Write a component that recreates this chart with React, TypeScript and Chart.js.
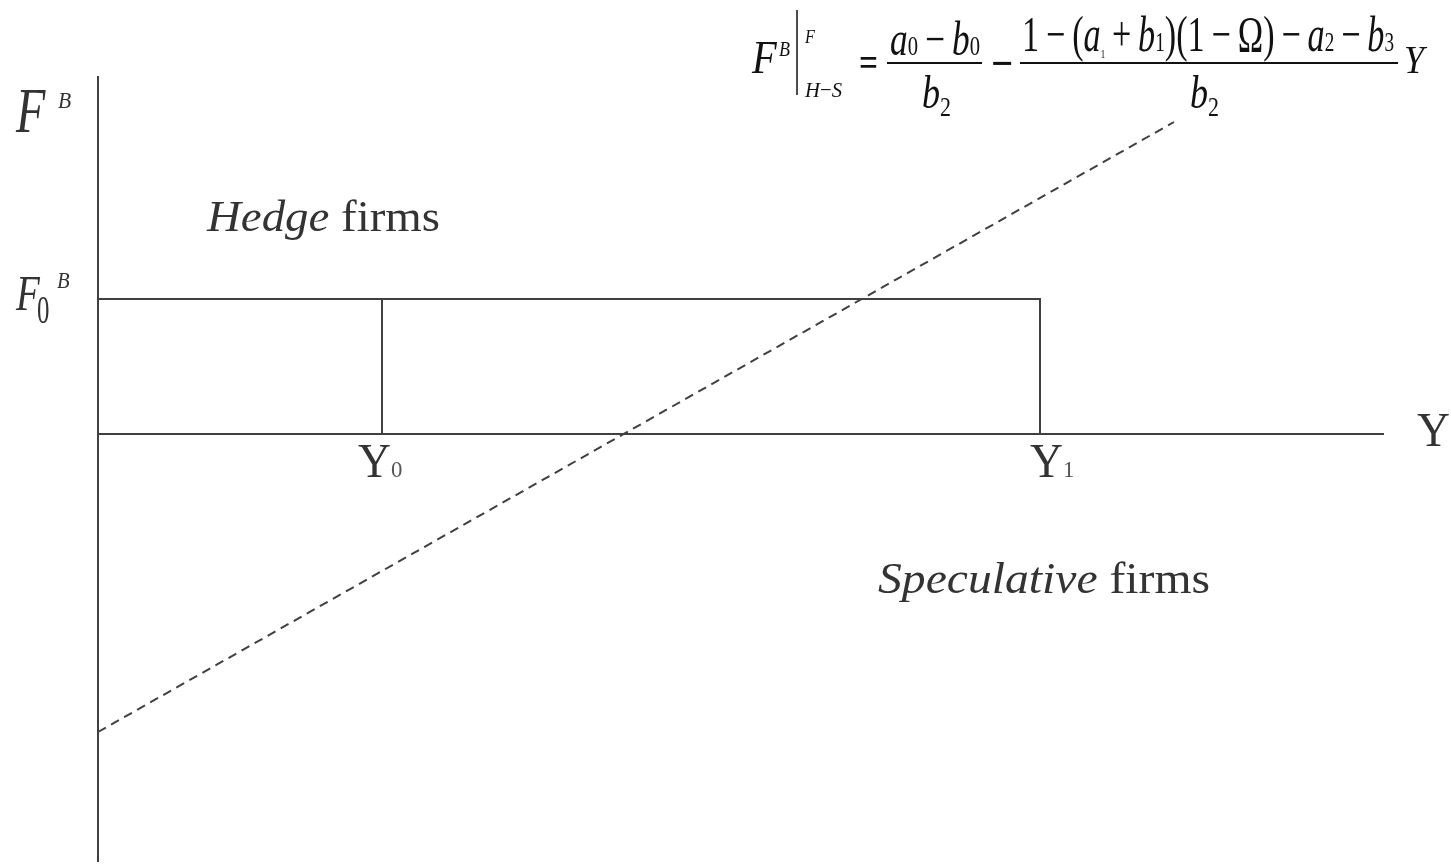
import { useEffect, useRef } from "react";
import { Chart, registerables } from "chart.js";

Chart.register(...registerables);

// Threshold values on the two axes
const F0 = 1.35; // F_0^B
const Y0 = 2.84;
const Y1 = 9.42;

// Axis extents
const F_AXIS = [3.58, -4.28];
const Y_AXIS_END = 12.86;

// Hedge / speculative boundary: F^B as a function of Y
const boundaryY = [0, 10.76];
const boundaryF = [-2.98, 3.12];

const SERIF = `"Liberation Serif", "Times New Roman", serif`;
const LINE = "#404040";
const TEXT = "#333333";
const INK = "#111111";
const TS = "\u2009"; // thin space around operators

type Run = { t: string; it?: boolean; b?: boolean; s?: number; dy?: number; c?: string };

function fontOf(r: Run, base: number) {
  return `${r.it ? "italic " : ""}${r.b ? "bold " : ""}${r.s ?? base}px ${SERIF}`;
}

function runsWidth(ctx: CanvasRenderingContext2D, runs: Run[], base: number) {
  let w = 0;
  for (const r of runs) {
    ctx.font = fontOf(r, base);
    w += ctx.measureText(r.t).width;
  }
  return w;
}

// Draws a sequence of text runs starting at (left, baseline); when a width is
// given, the whole group is stretched horizontally to span it.
function drawRuns(
  ctx: CanvasRenderingContext2D,
  runs: Run[],
  left: number,
  baseline: number,
  base: number,
  width: number | null,
  color: string,
  sx = 1
) {
  const natural = runsWidth(ctx, runs, base);
  const k = width ? width / natural : sx;
  ctx.save();
  ctx.translate(left, baseline);
  ctx.scale(k, 1);
  ctx.textBaseline = "alphabetic";
  ctx.textAlign = "left";
  let x = 0;
  for (const r of runs) {
    ctx.font = fontOf(r, base);
    ctx.fillStyle = r.c ?? color;
    ctx.fillText(r.t, x, r.dy ?? 0);
    x += ctx.measureText(r.t).width;
  }
  ctx.restore();
}

function segment(ctx: CanvasRenderingContext2D, x1: number, y1: number, x2: number, y2: number, w = 2) {
  ctx.save();
  ctx.strokeStyle = INK;
  ctx.lineWidth = w;
  ctx.beginPath();
  ctx.moveTo(x1, y1);
  ctx.lineTo(x2, y2);
  ctx.stroke();
  ctx.restore();
}

const labelsPlugin = {
  id: "diagramLabels",
  afterDraw(chart: Chart) {
    const ctx = chart.ctx;
    const xs = chart.scales.x;
    const ys = chart.scales.y;
    const px = (v: number) => xs.getPixelForValue(v);
    const py = (v: number) => ys.getPixelForValue(v);

    // Vertical axis label F^B
    drawRuns(ctx, [{ t: "F", it: true }], 16, 132, 64, null, TEXT, 0.75);
    drawRuns(ctx, [{ t: "B", it: true }], 58, 108, 24, null, TEXT, 0.9);

    // F_0^B at the threshold level
    const f0 = py(F0);
    drawRuns(ctx, [{ t: "F", it: true }], 16, f0 + 11, 50, null, TEXT, 0.78);
    drawRuns(ctx, [{ t: "0" }], 37, f0 + 24, 40, null, TEXT, 0.62);
    drawRuns(ctx, [{ t: "B", it: true }], 57, f0 - 11, 23, null, TEXT, 0.9);

    // Horizontal axis labels
    const y0 = py(0);
    drawRuns(ctx, [{ t: "Y" }, { t: "0", s: 24, c: "#555555" }], px(Y0) - 24, y0 + 43, 48, null, TEXT, 0.95);
    drawRuns(ctx, [{ t: "Y" }, { t: "1", s: 24, c: "#555555" }], px(Y1) - 10, y0 + 43, 48, null, TEXT, 0.95);
    drawRuns(ctx, [{ t: "Y" }], px(Y_AXIS_END) + 33, y0 + 12, 48, null, TEXT, 0.95);

    // Region labels
    drawRuns(ctx, [{ t: "Hedge", it: true }, { t: " firms" }], 207, 231, 44, 233, TEXT);
    drawRuns(ctx, [{ t: "Speculative", it: true }, { t: " firms" }], 878, 593, 44, 332, TEXT);

    // Boundary equation
    drawRuns(ctx, [{ t: "F", it: true }], 752, 73, 46, null, INK, 0.88);
    drawRuns(ctx, [{ t: "B", it: true }], 779, 56, 20, null, INK, 0.9);
    segment(ctx, 797, 10, 797, 95, 1.5);
    drawRuns(ctx, [{ t: "F", it: true }], 805, 43, 18, null, INK, 0.9);
    drawRuns(ctx, [{ t: "H", it: true }, { t: "−" }, { t: "S", it: true }], 805, 97, 22, 37, INK);
    drawRuns(ctx, [{ t: "=", b: true }], 859, 76, 40, 19, INK);

    drawRuns(
      ctx,
      [{ t: "a", it: true }, { t: "0", s: 28 }, { t: `${TS}−${TS}` }, { t: "b", it: true }, { t: "0", s: 28 }],
      890, 55, 48, 90, INK
    );
    segment(ctx, 887, 63, 982, 63);
    drawRuns(ctx, [{ t: "b", it: true }, { t: "2", s: 28, dy: 8 }], 922, 108, 46, 29, INK);

    drawRuns(ctx, [{ t: "−", b: true }], 991, 78, 44, 22, INK);

    drawRuns(
      ctx,
      [
        { t: `1${TS}−${TS}(` },
        { t: "a", it: true },
        { t: "1", s: 13, dy: 7 },
        { t: `${TS}+${TS}` },
        { t: "b", it: true },
        { t: "1", s: 28 },
        { t: `)(1${TS}−${TS}Ω)${TS}−${TS}` },
        { t: "a", it: true },
        { t: "2", s: 28 },
        { t: `${TS}−${TS}` },
        { t: "b", it: true },
        { t: "3", s: 28 },
      ],
      1022, 51, 50, 372, INK
    );
    segment(ctx, 1020, 63, 1398, 63);
    drawRuns(ctx, [{ t: "b", it: true }, { t: "2", s: 28, dy: 8 }], 1190, 108, 46, 29, INK);
    drawRuns(ctx, [{ t: "Y", it: true }], 1404, 73, 40, null, INK, 0.9);
  },
};

export default function App() {
  const canvasRef = useRef<HTMLCanvasElement | null>(null);

  useEffect(() => {
    document.body.style.margin = "0";
    const canvas = canvasRef.current;
    if (!canvas) return;

    const line = (data: { x: number; y: number }[], dash: number[] = []) => ({
      data,
      showLine: true,
      borderColor: LINE,
      borderWidth: 2,
      borderDash: dash,
      pointRadius: 0,
      fill: false,
      tension: 0,
    });

    const chart = new Chart(canvas, {
      type: "scatter",
      data: {
        datasets: [
          line([{ x: 0, y: F_AXIS[0] }, { x: 0, y: F_AXIS[1] }]),
          line([{ x: 0, y: 0 }, { x: Y_AXIS_END, y: 0 }]),
          line([{ x: 0, y: F0 }, { x: Y1, y: F0 }, { x: Y1, y: 0 }]),
          line([{ x: Y0, y: F0 }, { x: Y0, y: 0 }]),
          line(
            boundaryY.map((y, i) => ({ x: y, y: boundaryF[i] })),
            [9, 6]
          ),
        ],
      },
      options: {
        animation: false,
        responsive: true,
        maintainAspectRatio: false,
        layout: { padding: 0 },
        plugins: {
          legend: { display: false },
          tooltip: { enabled: false },
          title: { display: false },
        },
        scales: {
          x: { type: "linear", min: -0.98, max: 13.53, display: false },
          y: { type: "linear", min: -4.32, max: 4.34, display: false },
        },
      },
      plugins: [labelsPlugin],
    });

    return () => chart.destroy();
  }, []);

  return (
    <div style={{ position: "fixed", left: 0, top: 0, width: 1451, height: 866, background: "#fff" }}>
      <canvas ref={canvasRef} />
    </div>
  );
}
